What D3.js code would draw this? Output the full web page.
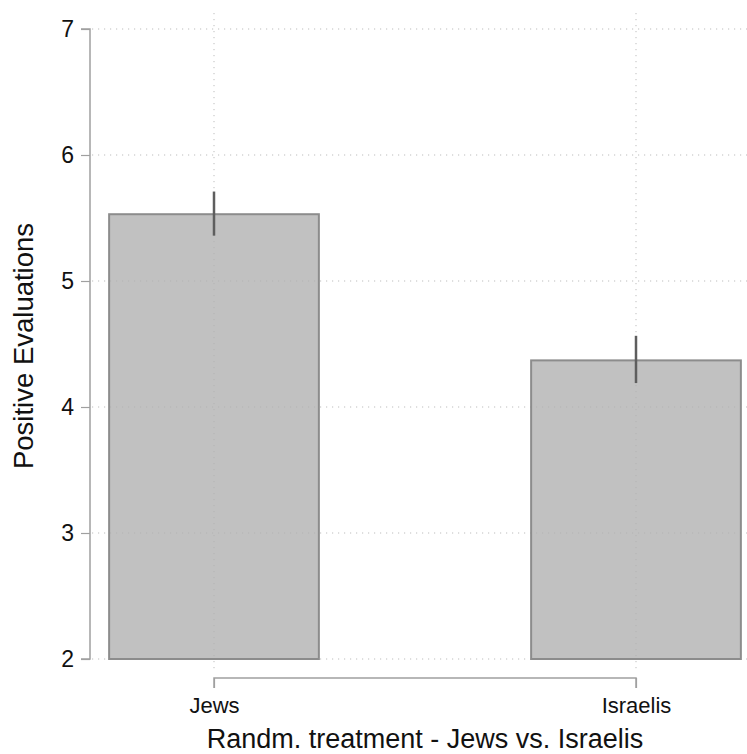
<!DOCTYPE html>
<html><head><meta charset="utf-8">
<script src="https://cdn.jsdelivr.net/npm/d3@7"></script>
<style>body{margin:0;background:#fff}svg{display:block}text{font-family:"Liberation Sans",Arial,Helvetica,sans-serif;fill:#111}</style>
</head><body>
<svg id="c" width="747" height="754"></svg>
<script>
const categories = ["Jews", "Israelis"];
const means = [5.53, 4.37];
const ciLow = [5.36, 4.19];
const ciHigh = [5.71, 4.565];
const yTicks = [2, 3, 4, 5, 6, 7];

const svg = d3.select("#c");
const y = d3.scaleLinear().domain([2, 7]).range([659, 29]);
const x = d3.scalePoint().domain(categories).range([214, 636]);
const bw = x.step() * 0.497;

// grid horizontal
svg.append("g").selectAll("line").data(yTicks).join("line")
  .attr("x1", 92).attr("x2", 747).attr("y1", d => y(d)).attr("y2", d => y(d))
  .attr("stroke", "#bdbdbd").attr("stroke-width", 1).attr("stroke-dasharray", "1.2,4.8");
// grid vertical
svg.append("g").selectAll("line").data(categories).join("line")
  .attr("x1", d => x(d)).attr("x2", d => x(d)).attr("y1", 13).attr("y2", 673)
  .attr("stroke", "#bdbdbd").attr("stroke-width", 1).attr("stroke-dasharray", "1.2,4.8");

// bars
const data = categories.map((c, i) => ({c, m: means[i], lo: ciLow[i], hi: ciHigh[i]}));
svg.append("g").selectAll("rect").data(data).join("rect")
  .attr("x", d => x(d.c) - bw / 2).attr("width", bw)
  .attr("y", d => y(d.m)).attr("height", d => y(2) - y(d.m))
  .attr("fill", "rgba(176,176,176,0.78)").attr("stroke", "#8c8c8c").attr("stroke-width", 2);

// error bars
svg.append("g").selectAll("line").data(data).join("line")
  .attr("x1", d => x(d.c)).attr("x2", d => x(d.c))
  .attr("y1", d => y(d.hi)).attr("y2", d => y(d.lo))
  .attr("stroke", "#5e5e5e").attr("stroke-width", 2.5);

// y axis
const yAxis = d3.axisLeft(y).tickValues(yTicks).tickSize(9).tickPadding(7).tickFormat(d3.format("d"));
const gy = svg.append("g").attr("transform", "translate(90,0)").call(yAxis);
gy.select(".domain").attr("stroke", "#a0a0a0").attr("stroke-width", 1.5).attr("d", `M-9,${y(7)}H0V${y(2)}H-9`);
gy.selectAll(".tick line").attr("stroke", "#a0a0a0").attr("stroke-width", 1.2);
gy.selectAll(".tick text").style("font-size", "23px").attr("fill", "#111").style("font-family", "Liberation Sans, Arial, sans-serif");

// x axis
const xAxis = d3.axisBottom(x).tickSize(10).tickPadding(9).tickSizeOuter(0);
const gx = svg.append("g").attr("transform", "translate(0,678)").call(xAxis);
gx.select(".domain").attr("stroke", "#a0a0a0").attr("stroke-width", 1.5).attr("d", `M${x("Jews")},10V0H${x("Israelis")}V10`);
gx.selectAll(".tick line").attr("stroke", "#a0a0a0").attr("stroke-width", 1.2);
gx.selectAll(".tick text").style("font-size", "22px").attr("fill", "#111").style("font-family", "Liberation Sans, Arial, sans-serif");

// titles
svg.append("text").attr("x", 425).attr("y", 748).attr("text-anchor", "middle")
  .style("font-size", "27px").text("Randm. treatment - Jews vs. Israelis");
svg.append("text").attr("transform", "translate(33,346) rotate(-90)").attr("text-anchor", "middle")
  .style("font-size", "27.5px").text("Positive Evaluations");
</script>
</body></html>
